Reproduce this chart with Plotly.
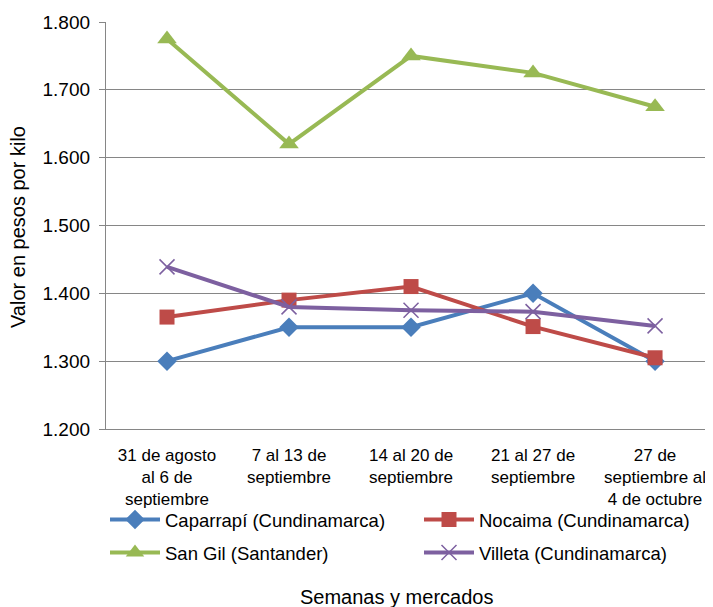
import plotly.graph_objects as go

categories = ["31 de agosto<br>al 6 de<br>septiembre", "7 al 13 de<br>septiembre",
              "14 al 20 de<br>septiembre", "21 al 27 de<br>septiembre",
              "27 de<br>septiembre al<br>4 de octubre"]
caparrapi = [1300, 1350, 1350, 1400, 1300]
nocaima = [1365, 1390, 1410, 1351, 1305]
san_gil = [1775, 1620, 1750, 1725, 1675]
villeta = [1439, 1380, 1375, 1373, 1352]

# page is rendered with an 8px body margin; figure coordinates = page - 8
W, H = 705, 599
series = [
    ("Caparrapí (Cundinamarca)", caparrapi, "#4A7EBB", dict(symbol="diamond", size=15), "legend"),
    ("Nocaima (Cundinamarca)", nocaima, "#BE4B48", dict(symbol="square", size=15), "legend2"),
    ("San Gil (Santander)", san_gil, "#98B954", dict(symbol="triangle-up", size=17), "legend3"),
    ("Villeta (Cundinamarca)", villeta, "#7D60A0",
     dict(symbol="x-thin", size=15, line=dict(width=1.5, color="#7D60A0")), "legend4"),
]

fig = go.Figure()
for name, vals, color, mk, lg in series:
    m = dict(color=color, **mk)
    fig.add_trace(go.Scatter(x=list(range(len(categories))), y=vals, name=name, mode="lines+markers",
                             line=dict(color=color, width=4), marker=m, legend=lg))

FAM = "Liberation Sans, Arial, sans-serif"
font = dict(family=FAM, size=18.5, color="#000000")
xfont = dict(family=FAM, size=17, color="#000000")
yfont = dict(family=FAM, size=19, color="#000000")
tfont = dict(family=FAM, size=20, color="#000000")

def leg(xpix, ypix):
    return dict(orientation="h", xref="container", yref="container", x=xpix / W, xanchor="left",
                y=1 - ypix / H, yanchor="middle", font=font, itemwidth=50,
                bgcolor="rgba(0,0,0,0)")

L, T, B = 98, 14, 421
fig.update_layout(
    width=W, height=H,
    margin=dict(l=L, r=0, t=T, b=H - B, autoexpand=False),
    paper_bgcolor="white", plot_bgcolor="white",
    separators=",.",
    font=font,
    showlegend=True,
    legend=leg(97, 512),
    legend2=leg(411, 512),
    legend3=leg(97, 545),
    legend4=leg(411, 545),
    xaxis=dict(tickmode="array", tickvals=list(range(len(categories))), ticktext=categories,
               range=[-0.5, 4.475], showgrid=False, showline=True, linecolor="#868686", linewidth=1.3,
               ticks="", tickfont=xfont, zeroline=False, automargin=False,
               ticklabeloverflow="allow", ticklabelstandoff=10),
    yaxis=dict(range=[1200, 1800], dtick=100, tickformat=",d", showgrid=True, gridcolor="#868686",
               gridwidth=1.3, showline=True, linecolor="#868686", linewidth=1.3, ticks="outside",
               ticklen=6, tickcolor="#868686", tickfont=yfont, zeroline=False, automargin=False,
               ticklabelstandoff=5),
)
pw, ph = W - L, B - T
fig.add_annotation(text="Semanas y mercados", x=(388 - L) / pw, xref="paper",
                   y=-(589 - B) / ph, yref="paper", showarrow=False, font=tfont,
                   xanchor="center", yanchor="middle")
fig.add_annotation(text="Valor en pesos por kilo", x=(10 - L) / pw, xref="paper",
                   y=(B - 219) / ph, yref="paper", showarrow=False, font=tfont, textangle=-90,
                   xanchor="center", yanchor="middle")
fig.write_html("out.html")
